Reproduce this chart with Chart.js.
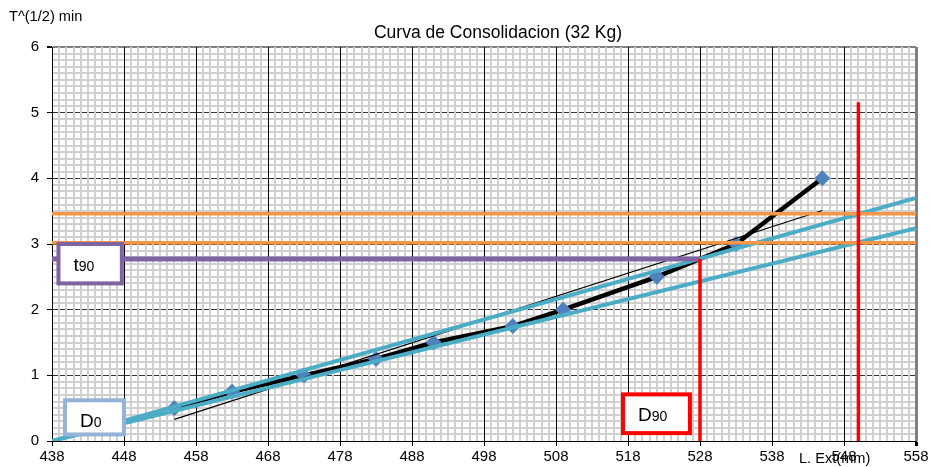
<!DOCTYPE html>
<html>
<head>
<meta charset="utf-8">
<title>Curva de Consolidacion</title>
<script src="https://cdn.jsdelivr.net/npm/chart.js@4/dist/chart.umd.min.js"></script>
<style>
    html, body { margin: 0; padding: 0; background: #fff; }
</style>
</head>
<body>
<canvas id="myChart" width="932" height="467"></canvas>
<script>
// lecturas del extensometro vs raiz del tiempo
const extReadings = [455, 463, 473, 483, 491, 502, 509, 522, 533, 545];
const rootTime = [0.5, 0.75, 1, 1.25, 1.5, 1.75, 2, 2.5, 3, 4];

// rectas de construccion (metodo de Taylor)
const tangentX = [455, 545];
const tangentY = [0.33, 3.51];
const steepX = [438, 558];
const steepY = [0, 3.70];
const flatX = [438, 558];
const flatY = [0, 3.24];
const orangeLevels = [3.46, 3.02];
const t90Level = 2.77;
const d90Ext = 528;
const d100Ext = 550;
const d100Top = 5.16;

// ejes
const xMin = 438;
const xMax = 558;
const yMin = 0;
const yMax = 6;

// cuadros de texto (en unidades de datos)
const textBoxes = [
    { main: "t", sub: "90", x0: 438.9, x1: 447.7, y0: 3.0, y1: 2.4, color: "#8064A2" },
    { main: "D", sub: "0", x0: 439.8, x1: 448.0, y0: 0.62, y1: 0.10, color: "#95B3D7" },
    { main: "D", sub: "90", x0: 517.3, x1: 526.6, y0: 0.71, y1: 0.12, color: "#FF0000" }
];

const FONT = "'Liberation Sans', Arial, sans-serif";

function toPoints(xs, ys) {
    return xs.map((x, i) => ({ x: x, y: ys[i] }));
}

function isWhole(v) {
    return Math.abs(v - Math.round(v)) < 1e-6;
}

// textos y cuadros extra
const extrasPlugin = {
    id: "extras",
    afterDraw(chart) {
        const ctx = chart.ctx;
        const xs = chart.scales.x;
        const ys = chart.scales.y;
        ctx.save();

        textBoxes.forEach(b => {
            const l = xs.getPixelForValue(b.x0);
            const r = xs.getPixelForValue(b.x1);
            const t = ys.getPixelForValue(b.y0);
            const bt = ys.getPixelForValue(b.y1);
            ctx.fillStyle = "#fff";
            ctx.fillRect(l, t, r - l, bt - t);
            ctx.lineWidth = 4;
            ctx.strokeStyle = b.color;
            ctx.strokeRect(l, t, r - l, bt - t);

            ctx.fillStyle = "#000";
            ctx.textAlign = "left";
            ctx.textBaseline = "alphabetic";
            ctx.font = "19px " + FONT;
            ctx.fillText(b.main, l + 15, t + 27);
            const w = ctx.measureText(b.main).width;
            ctx.font = "14px " + FONT;
            ctx.fillText(b.sub, l + 15 + w, t + 27);
        });

        ctx.fillStyle = "#000";
        ctx.textBaseline = "alphabetic";
        ctx.font = "17.5px " + FONT;
        ctx.textAlign = "center";
        ctx.fillText("Curva de Consolidacion (32 Kg)", 498, 38);

        ctx.font = "14.6px " + FONT;
        ctx.textAlign = "left";
        ctx.fillText("T^(1/2) min", 9, 21);
        ctx.fillText("L. Ext(mm)", 799, 463);

        ctx.restore();
    }
};

function lineSet(points, color, width, order) {
    return {
        data: points,
        showLine: true,
        borderColor: color,
        backgroundColor: color,
        borderWidth: width,
        pointRadius: 0,
        pointHoverRadius: 0,
        order: order
    };
}

function renderChart() {
    const datasets = [
        lineSet([{ x: d90Ext, y: 0 }, { x: d90Ext, y: t90Level }], "#FF0000", 3.5, 1),
        lineSet([{ x: d100Ext, y: 0 }, { x: d100Ext, y: d100Top }], "#FF0000", 3.5, 1),
        lineSet([{ x: xMin, y: t90Level }, { x: d90Ext, y: t90Level }], "#8064A2", 5, 2),
        lineSet([{ x: xMin, y: orangeLevels[0] }, { x: xMax, y: orangeLevels[0] }], "#F79646", 3.5, 3),
        lineSet([{ x: xMin, y: orangeLevels[1] }, { x: xMax, y: orangeLevels[1] }], "#F79646", 3.5, 3),
        lineSet(toPoints(steepX, steepY), "#4BACC6", 4, 4),
        lineSet(toPoints(flatX, flatY), "#4BACC6", 4, 4),
        lineSet(toPoints(tangentX, tangentY), "#000000", 1.2, 5),
        {
            data: toPoints(extReadings, rootTime),
            showLine: true,
            borderColor: "#000000",
            borderWidth: 4.5,
            pointStyle: "rectRot",
            pointRadius: 7.5,
            pointBorderWidth: 1,
            pointBackgroundColor: "#4F81BD",
            pointBorderColor: "#4F81BD",
            order: 6
        }
    ];

    new Chart(document.getElementById("myChart"), {
        type: "scatter",
        data: { datasets: datasets },
        plugins: [extrasPlugin],
        options: {
            responsive: false,
            animation: false,
            devicePixelRatio: 1,
            layout: { padding: { top: 47, right: 16, left: 0, bottom: 0 } },
            plugins: {
                legend: { display: false },
                tooltip: { enabled: false },
                title: { display: false }
            },
            scales: {
                y: {
                    type: "linear",
                    min: yMin,
                    max: yMax,
                    afterBuildTicks: scale => {
                        const ticks = [];
                        for (let i = 0; i <= (yMax - yMin) * 10; i++) {
                            ticks.push({ value: yMin + i / 10 });
                        }
                        scale.ticks = ticks;
                    },
                    afterFit: scale => { scale.width = 52; },
                    ticks: {
                        autoSkip: false,
                        padding: 8,
                        color: "#000",
                        font: { family: FONT, size: 15 },
                        callback: v => isWhole(v) ? String(Math.round(v)) : ""
                    },
                    grid: {
                        z: -1,
                        tickLength: 5,
                        color: c => {
                            const v = c.tick.value;
                            if (Math.abs(v - yMax) < 1e-6) return "#808080";
                            return isWhole(v) ? "#333333" : "#D0D0D0";
                        },
                        lineWidth: c => {
                            const v = c.tick.value;
                            if (Math.abs(v - yMax) < 1e-6) return 2;
                            return isWhole(v) ? 1 : 2;
                        },
                        tickColor: c => isWhole(c.tick.value) ? "#000" : "rgba(0,0,0,0)"
                    },
                    border: { color: "#000", width: 1 }
                },
                x: {
                    type: "linear",
                    min: xMin,
                    max: xMax,
                    afterBuildTicks: scale => {
                        const ticks = [];
                        for (let v = xMin; v <= xMax; v++) {
                            ticks.push({ value: v });
                        }
                        scale.ticks = ticks;
                    },
                    afterFit: scale => { scale.height = 26; },
                    ticks: {
                        autoSkip: false,
                        maxRotation: 0,
                        padding: 2,
                        color: "#000",
                        font: { family: FONT, size: 15 },
                        callback: v => (v - xMin) % 10 === 0 ? String(v) : ""
                    },
                    grid: {
                        tickLength: 5,
                        color: c => {
                            const v = c.tick.value;
                            if (v === xMax) return "#808080";
                            return (v - xMin) % 10 === 0 ? "#000000" : "#D0D0D0";
                        },
                        lineWidth: c => {
                            const v = c.tick.value;
                            if (v === xMax) return 3;
                            return (v - xMin) % 10 === 0 ? 1 : 2;
                        },
                        tickColor: c => (c.tick.value - xMin) % 10 === 0 ? "#000" : "rgba(0,0,0,0)"
                    },
                    border: { color: "#000", width: 1 }
                }
            }
        }
    });
}

renderChart();
</script>
</body>
</html>
